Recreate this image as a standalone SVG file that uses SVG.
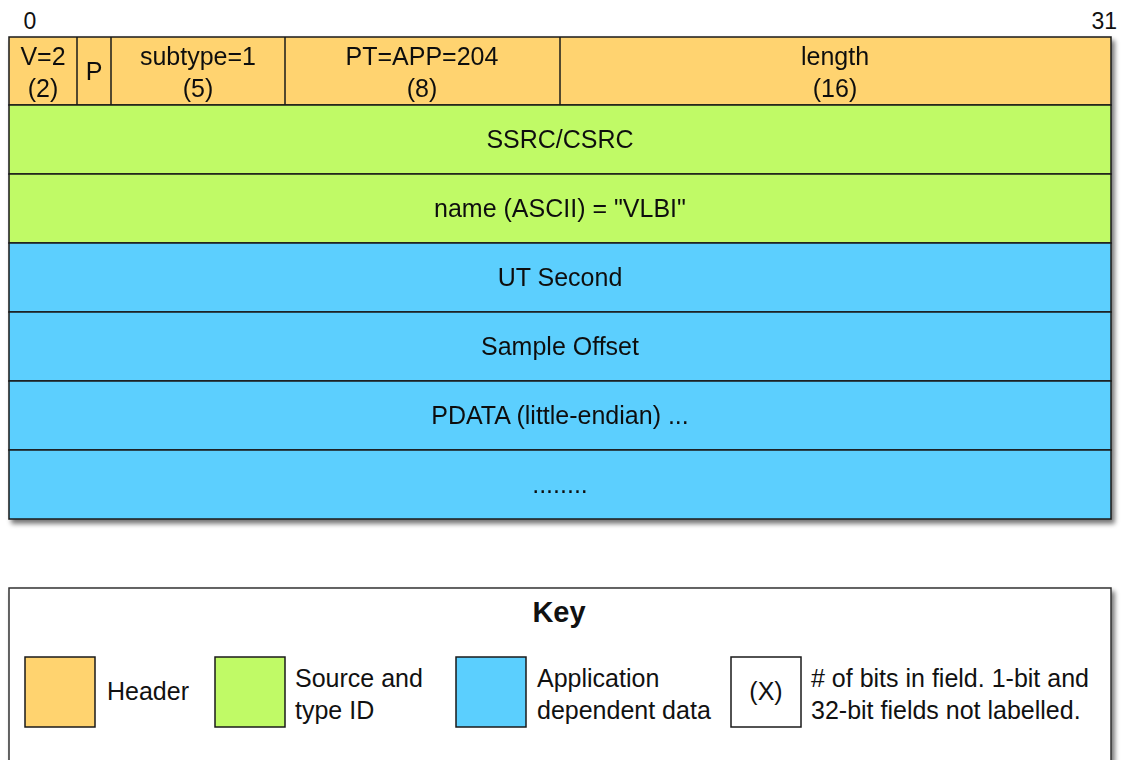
<svg xmlns="http://www.w3.org/2000/svg" width="1125" height="760" viewBox="0 0 1125 760">
<defs>
<filter id="sh" x="-5%" y="-5%" width="110%" height="115%">
<feGaussianBlur in="SourceAlpha" stdDeviation="2.5"/>
<feOffset dx="3" dy="4" result="b"/>
<feComponentTransfer><feFuncA type="linear" slope="0.55"/></feComponentTransfer>
<feMerge><feMergeNode/><feMergeNode in="SourceGraphic"/></feMerge>
</filter>
<style>
text{font-family:"Liberation Sans",Arial,sans-serif;font-size:25px;fill:#111;text-anchor:middle}
.hd{fill:#FFD36F}
.sr{fill:#C0FA66}
.ap{fill:#5BCFFE}
.f{stroke:#1a1a1a;stroke-width:1.5}
.ln{stroke:#1a1a1a;stroke-width:1.5;fill:none}
.l{text-anchor:start}
</style>
</defs>
<rect width="1125" height="760" fill="#fff"/>
<text x="30" y="29" style="font-size:23px">0</text>
<text x="1117" y="29" style="text-anchor:end;font-size:23px">31</text>
<g id="packet" filter="url(#sh)">
<g id="header">
<rect class="hd f" x="9" y="37" width="1102" height="68"/>
<line class="ln" x1="77" y1="37" x2="77" y2="105"/>
<line class="ln" x1="111" y1="37" x2="111" y2="105"/>
<line class="ln" x1="285" y1="37" x2="285" y2="105"/>
<line class="ln" x1="560" y1="37" x2="560" y2="105"/>
<text x="43" y="65">V=2</text><text x="43" y="97">(2)</text>
<text x="94" y="80">P</text>
<text x="198" y="65">subtype=1</text><text x="198" y="97">(5)</text>
<text x="422" y="65">PT=APP=204</text><text x="422" y="97">(8)</text>
<text x="835" y="65">length</text><text x="835" y="97">(16)</text>
</g>
<g id="ssrc"><rect class="sr f" x="9" y="105" width="1102" height="69"/><text x="560" y="148">SSRC/CSRC</text></g>
<g id="name"><rect class="sr f" x="9" y="174" width="1102" height="69"/><text x="560" y="217">name (ASCII) = "VLBI"</text></g>
<g id="utsecond"><rect class="ap f" x="9" y="243" width="1102" height="69"/><text x="560" y="286">UT Second</text></g>
<g id="offset"><rect class="ap f" x="9" y="312" width="1102" height="69"/><text x="560" y="355">Sample Offset</text></g>
<g id="pdata"><rect class="ap f" x="9" y="381" width="1102" height="69"/><text x="560" y="424">PDATA (little-endian) ...</text></g>
<g id="more"><rect class="ap f" x="9" y="450" width="1102" height="69"/><text x="560" y="493">........</text></g>
</g>
<g id="connectors"></g>
<g id="key">
<rect x="9" y="588" width="1102" height="180" fill="#fff" stroke="#333" stroke-width="1.5" filter="url(#sh)"/>
<text x="559" y="622" style="font-weight:bold;font-size:29px">Key</text>
<rect class="hd f" x="25" y="657" width="70" height="70"/>
<text class="l" x="107" y="700">Header</text>
<rect class="sr f" x="215" y="657" width="70" height="70"/>
<text class="l" x="295" y="687">Source and</text><text class="l" x="295" y="719">type ID</text>
<rect class="ap f" x="456" y="657" width="70" height="70"/>
<text class="l" x="537" y="687">Application</text><text class="l" x="537" y="719">dependent data</text>
<rect x="731" y="657" width="70" height="70" fill="#fff" stroke="#1a1a1a" stroke-width="1.5"/>
<text x="766" y="700">(X)</text>
<text class="l" x="811" y="687"># of bits in field. 1-bit and</text><text class="l" x="811" y="719">32-bit fields not labelled.</text>
</g>
</svg>
